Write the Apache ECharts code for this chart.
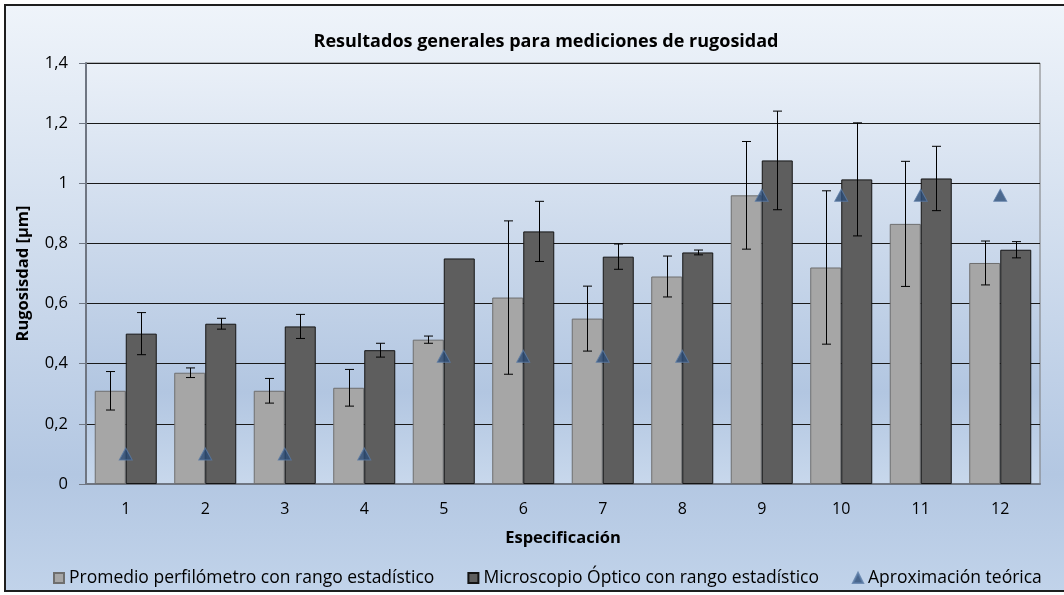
<!DOCTYPE html>
<html>
<head>
<meta charset="utf-8">
<script src="https://cdn.jsdelivr.net/npm/echarts@6/dist/echarts.min.js"></script>
<style>
html,body{margin:0;padding:0;background:#ffffff;}
#chart{width:1064px;height:595px;}
</style>
</head>
<body>
<div id="chart"></div>
<script>
// ---- data ----
const categories = ['1','2','3','4','5','6','7','8','9','10','11','12'];
const perfilometro = [0.31, 0.37, 0.31, 0.32, 0.48, 0.62, 0.55, 0.69, 0.96, 0.72, 0.865, 0.735];
const perfilometroRango = [0.064, 0.016, 0.041, 0.061, 0.012, 0.255, 0.108, 0.068, 0.179, 0.255, 0.208, 0.073];
const microscopio = [0.50, 0.533, 0.524, 0.445, 0.75, 0.84, 0.756, 0.77, 1.076, 1.013, 1.016, 0.779];
const microscopioRango = [0.07, 0.018, 0.04, 0.023, null, 0.1, 0.042, 0.008, 0.164, 0.188, 0.107, 0.027];
const teorica = [0.1, 0.1, 0.1, 0.1, 0.425, 0.425, 0.425, 0.425, 0.96, 0.96, 0.96, 0.96];
const yTickLabels = {'0':'0','0.2':'0,2','0.4':'0,4','0.6':'0,6','0.8':'0,8','1':'1','1.2':'1,2','1.4':'1,4'};
const seriesNames = ['Promedio perfilómetro con rango estadístico','Microscopio Óptico con rango estadístico','Aproximación teórica'];

const FONT = 'Open Sans';
const CAT_GAP = 0.22;

function errorRender(side){
  return function(params, api){
    const e = api.value(2);
    if (e === null || e === undefined || isNaN(e) || e === 0) return null;
    const i = api.value(0), v = api.value(1);
    const top = api.coord([i, v + e]);
    const bot = api.coord([i, v - e]);
    const bw = api.size([1, 0])[0];
    const off = bw * (1 - CAT_GAP) / 4 * side;
    const x = Math.round(top[0] + off) + 0.5;
    const cap = 4.5;
    const st = {stroke:'#000', lineWidth:1};
    return {type:'group', children:[
      {type:'line', shape:{x1:x, y1:top[1], x2:x, y2:bot[1]}, style:st},
      {type:'line', shape:{x1:x-cap, y1:top[1], x2:x+cap, y2:top[1]}, style:st},
      {type:'line', shape:{x1:x-cap, y1:bot[1], x2:x+cap, y2:bot[1]}, style:st}
    ]};
  };
}

const chart = echarts.init(document.getElementById('chart'), null, {renderer:'canvas'});
const option = {
  animation:false,
  textStyle:{fontFamily:FONT},
  graphic:[{
    type:'rect', z:-10, silent:true,
    shape:{x:5, y:5, width:1075, height:586},
    style:{
      fill:new echarts.graphic.LinearGradient(0,0,0,1,[
        {offset:0, color:'#eff4fa'},
        {offset:0.8, color:'#b3c7e2'},
        {offset:1, color:'#c1d3ea'}
      ]),
      stroke:'#1e1e1e', lineWidth:2
    }
  }],
  title:{
    text:'Resultados generales para mediciones de rugosidad',
    left:541, textAlign:'center', top:28,
    textStyle:{fontFamily:FONT, fontSize:18, fontWeight:'bold', color:'#000'}
  },
  legend:{
    data:[
      {name:seriesNames[0], icon:'rect'},
      {name:seriesNames[1], icon:'rect'},
      {name:seriesNames[2], icon:'triangle'}
    ],
    left:48, top:564,
    itemWidth:10, itemHeight:10, itemGap:33,
    textStyle:{fontFamily:FONT, fontSize:17.5, color:'#000'}
  },
  grid:{
    left:86, right:24, top:63, bottom:111,
    show:true,
    backgroundColor:new echarts.graphic.LinearGradient(0,0,0,1,[
      {offset:0, color:'#eaf0f8'},
      {offset:0.78, color:'#b2c6e1'},
      {offset:1, color:'#c8d8ec'}
    ]),
    borderColor:'#7a7a7a', borderWidth:1
  },
  xAxis:{
    type:'category', data:categories,
    name:'Especificación', nameLocation:'middle', nameGap:46,
    nameTextStyle:{fontFamily:FONT, fontSize:16.5, fontWeight:'bold', color:'#000'},
    axisLine:{lineStyle:{color:'#6f7682', width:2}},
    axisTick:{show:false},
    axisLabel:{margin:17, fontFamily:FONT, fontSize:16, color:'#000'}
  },
  yAxis:{
    type:'value', min:0, max:1.4, interval:0.2,
    name:'Rugosisdad [µm]', nameLocation:'middle', nameGap:54,
    nameTextStyle:{fontFamily:FONT, fontSize:16.5, fontWeight:'bold', color:'#000'},
    axisLine:{show:true, lineStyle:{color:'#6f7682', width:2}},
    axisTick:{show:true, length:7, lineStyle:{color:'#6f7682'}},
    axisLabel:{margin:18, fontFamily:FONT, fontSize:16.5, color:'#000',
      formatter:function(v){ const k = String(Math.round(v*10)/10); return yTickLabels[k] !== undefined ? yTickLabels[k] : k; }},
    splitLine:{show:true, lineStyle:{color:'#1a1a1a', width:1}}
  },
  series:[
    {
      name:seriesNames[0], type:'bar', data:perfilometro,
      barGap:'0%', barCategoryGap:(CAT_GAP*100)+'%',
      itemStyle:{color:'#a6a6a6', borderColor:'#6e6e6e', borderWidth:1}
    },
    {
      name:seriesNames[1], type:'bar', data:microscopio,
      barGap:'0%', barCategoryGap:(CAT_GAP*100)+'%',
      itemStyle:{color:'#5e5e5e', borderColor:'#141414', borderWidth:1}
    },
    {
      name:seriesNames[2], type:'scatter', data:teorica,
      symbol:'triangle', symbolSize:[13,12], z:5,
      itemStyle:{color:'#2b4b76', borderColor:'#5a7aa5', borderWidth:1}
    },
    {
      name:'perfErr', type:'custom', z:4,
      renderItem:errorRender(-1),
      data:categories.map((c,i)=>[i, perfilometro[i], perfilometroRango[i]])
    },
    {
      name:'microErr', type:'custom', z:4,
      renderItem:errorRender(1),
      data:categories.map((c,i)=>[i, microscopio[i], microscopioRango[i] === null ? 0 : microscopioRango[i]])
    }
  ]
};
chart.setOption(option);
</script>
</body>
</html>
